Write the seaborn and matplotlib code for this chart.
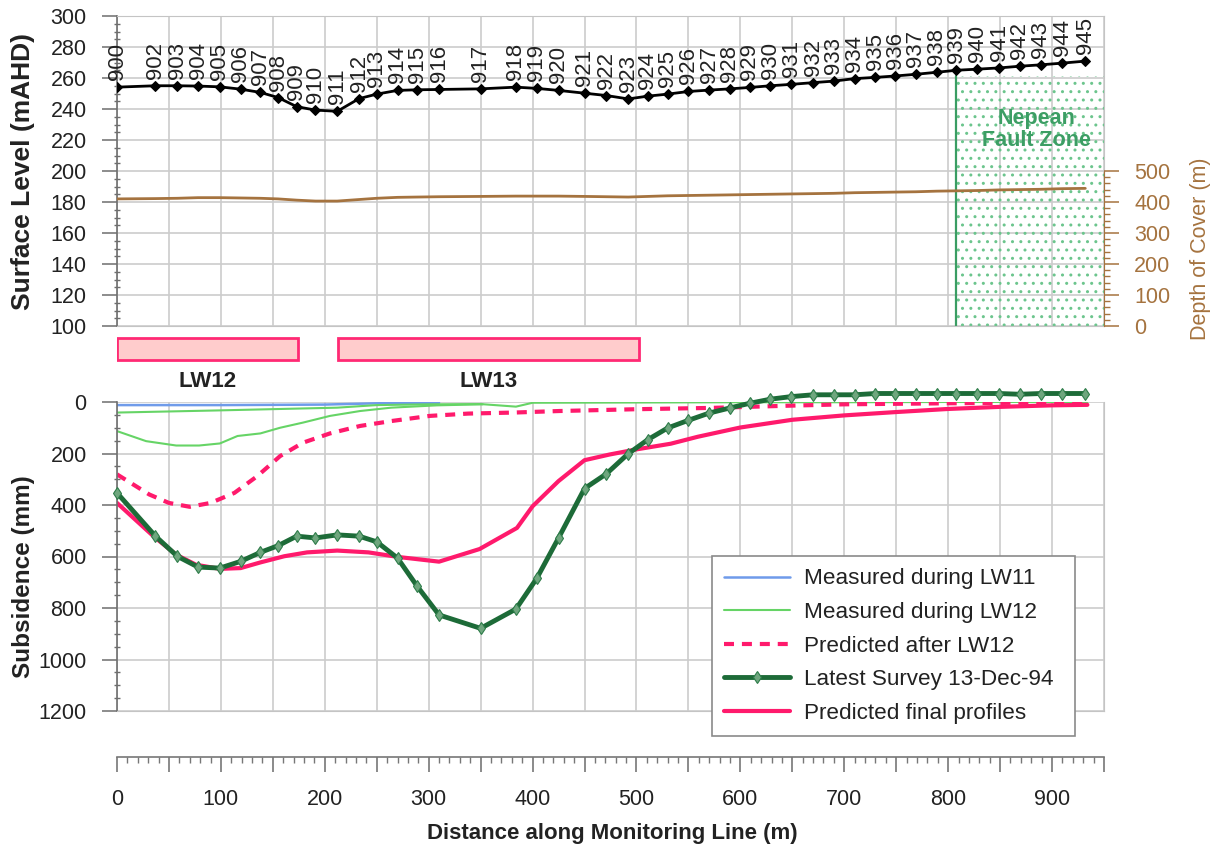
import matplotlib
matplotlib.use("Agg")
import matplotlib.pyplot as plt
from matplotlib.ticker import MultipleLocator, FixedLocator, FuncFormatter
from matplotlib.patches import Rectangle
import seaborn as sns

# ---------------- data ----------------
mark_ids = [900, 902, 903, 904, 905, 906, 907, 908, 909, 910,
            911, 912, 913, 914, 915, 916, 917, 918, 919, 920,
            921, 922, 923, 924, 925, 926, 927, 928, 929, 930,
            931, 932, 933, 934, 935, 936, 937, 938, 939, 940,
            941, 942, 943, 944, 945]
mark_dist = [0, 37, 58, 78, 99, 119, 138, 155, 173, 191,
             212, 233, 250, 270, 289, 310, 350, 384, 404, 425,
             450, 471, 492, 511, 530, 550, 570, 590, 609, 629,
             649, 670, 690, 710, 730, 749, 769, 789, 808, 828,
             849, 869, 889, 910, 932]
surface_level = [254.1, 255.0, 255.0, 254.8, 254.3, 252.8, 250.7, 247.4, 241.5, 239.3,
                 238.5, 246.7, 249.6, 252.0, 252.4, 252.6, 253.0, 254.1, 253.3, 252.0,
                 250.2, 248.7, 246.5, 248.3, 249.6, 251.3, 252.2, 253.0, 253.9, 255.0,
                 255.9, 257.0, 258.0, 259.6, 260.4, 261.3, 262.4, 263.7, 265.0, 265.7,
                 266.5, 267.6, 268.5, 269.6, 270.9]
depth_of_cover = [410, 411, 412, 414, 414, 413, 412, 410, 406, 403,
                  403, 408, 412, 415, 416, 417, 418, 419, 419, 419,
                  418, 417, 416, 418, 420, 421, 422, 423, 424, 425,
                  426, 427, 428, 430, 431, 432, 433, 435, 436, 437,
                  439, 440, 441, 443, 444]
latest_survey = [353, 521, 599, 641, 645, 619, 584, 558, 521, 528,
                 516, 521, 543, 606, 716, 827, 879, 804, 685, 528,
                 336, 279, 201, 146, 101, 71, 43, 23, 5, -11,
                 -21, -28, -28, -28, -33, -33, -33, -33, -33, -33,
                 -33, -30, -33, -33, -33]

final_x = [0, 35, 57, 76, 99, 119, 138, 161, 183, 212, 242, 271, 310, 349, 385,
           400, 425, 450, 474, 500, 533, 559, 600, 650, 700, 750, 800, 849, 900, 934]
final_subs = [392, 521, 593, 632, 648, 645, 623, 599, 584, 577, 584, 602, 620, 571, 489,
              405, 307, 226, 204, 184, 162, 135, 99, 69, 52, 39, 27, 19, 13, 11]

after12_x = [0, 31, 50, 70, 90, 113, 135, 157, 179, 205, 234, 264, 301, 338, 382,
             426, 500, 571, 650, 700, 800, 934]
after12_subs = [281, 359, 392, 407, 392, 353, 288, 210, 158, 122, 93, 74, 54, 45, 41,
                35, 28, 23, 14, 9, 5, 1]

lw11_x = [0, 100, 200, 250, 310]
lw11_subs = [12, 12, 10, 5, 3]

lw12a_x = [0, 94, 212, 250, 300, 350, 384, 400, 500, 600, 700, 800, 934]
lw12a_subs = [41, 33, 22, 12, 9, 8, 18, 3, 2, 1, 1, 0, 0]
lw12b_x = [0, 28, 57, 79, 99, 116, 138, 157, 179, 205, 234, 264, 308, 352]
lw12b_subs = [113, 152, 169, 169, 161, 132, 122, 100, 80, 54, 35, 22, 13, 9]

panel_names = ["LW12", "LW13"]
panel_start = [0, 213]
panel_end = [174, 502]

fault_zone_x = [808, 950]
fault_zone_top = 261

legend_labels = ["Measured during LW11", "Measured during LW12", "Predicted after LW12",
                 "Latest Survey 13-Dec-94", "Predicted final profiles"]

# ---------------- style ----------------
sns.set_style("white")
plt.rcParams['font.family'] = ['Liberation Sans', 'DejaVu Sans']
plt.rcParams['hatch.linewidth'] = 1.0

W, H = 1219, 850
fig = plt.figure(figsize=(W / 100, H / 100), dpi=100)


def frac(x0, y0, x1, y1):
    return [x0 / W, 1 - y1 / H, (x1 - x0) / W, (y1 - y0) / H]


GRID = '#cccccc'
SPINE = '#6e6e6e'
BROWN = '#a5733f'
PINK = '#ff1a6c'
TXT = '#222222'
FS = 15.5

ax_top = fig.add_axes(frac(117, 16, 1104, 326))
ax_strip = fig.add_axes(frac(117, 326, 1104, 402))
ax_bot = fig.add_axes(frac(117, 402, 1104, 711))
ax_x = fig.add_axes(frac(117, 756, 1104, 757))

# ---------------- top chart ----------------
ax_top.set_xlim(0, 950)
ax_top.set_ylim(100, 300)
ax_top.xaxis.set_major_locator(MultipleLocator(50))
ax_top.yaxis.set_major_locator(MultipleLocator(20))
ax_top.yaxis.set_minor_locator(MultipleLocator(5))
ax_top.grid(True, which='major', color=GRID, lw=1.2)
ax_top.tick_params(axis='x', which='both', length=0, labelbottom=False)
ax_top.tick_params(axis='y', which='major', direction='out', length=10.8, width=1.1,
                   color=SPINE, labelsize=FS, labelcolor=TXT, pad=11)
ax_top.tick_params(axis='y', which='minor', direction='inout', length=5, width=1, color=SPINE, left=True)
for s in ['top', 'right', 'bottom']:
    ax_top.spines[s].set_color('#c4c4c4')
ax_top.spines['left'].set_color(SPINE)
ax_top.spines['left'].set_linewidth(1.2)

fz = Rectangle((fault_zone_x[0], 100), fault_zone_x[1] - fault_zone_x[0], fault_zone_top - 100,
               facecolor='none', edgecolor='#6cc58d', hatch='..', lw=0, zorder=1.5)
ax_top.add_patch(fz)
ax_top.plot([fault_zone_x[0], fault_zone_x[0]], [100, fault_zone_top], color='#3a9d63', lw=1.6, zorder=2)
ax_top.text((fault_zone_x[0] + fault_zone_x[1]) / 2 + 6, 227, "Nepean\nFault Zone", ha='center', va='center',
            color='#3c9e64', fontsize=15.5, fontweight='bold', linespacing=1.05, zorder=3)

sns.lineplot(x=mark_dist, y=surface_level, ax=ax_top, color='black', lw=2, marker='D',
             markersize=5.5, markeredgecolor='black', zorder=4, sort=False, estimator=None)
for d, s, m in zip(mark_dist, surface_level, mark_ids):
    ax_top.annotate(str(m), (d, s), xytext=(0, 7), textcoords='offset pixels', rotation=90,
                    ha='center', va='bottom', fontsize=16, color=TXT, annotation_clip=False)
ax_top.set_xlabel('')
ax_top.set_ylabel('Surface Level (mAHD)', fontsize=19, fontweight='bold', color=TXT)
ax_top.yaxis.set_label_coords(-0.083, 0.5)

ax_r = ax_top.twinx()
sns.lineplot(x=mark_dist, y=depth_of_cover, ax=ax_r, color=BROWN, lw=2, sort=False, estimator=None)
ax_r.set_xlim(0, 950)
ax_r.set_ylim(0, 1000)
ax_r.grid(False)
ax_r.yaxis.set_major_locator(FixedLocator(list(range(0, 501, 100))))
ax_r.yaxis.set_minor_locator(FixedLocator(list(range(0, 501, 20))))
ax_r.tick_params(axis='y', which='major', direction='out', length=10.8, width=1.1, color=BROWN,
                 labelsize=FS, labelcolor=BROWN, pad=11, right=True)
ax_r.tick_params(axis='y', which='minor', direction='out', length=4.5, width=1, color=BROWN, right=True)
for s in ['top', 'left', 'bottom']:
    ax_r.spines[s].set_visible(False)
ax_r.spines['right'].set_bounds(0, 500)
ax_r.spines['right'].set_color(BROWN)
ax_r.set_xlabel('')
ax_r.set_ylabel('Depth of Cover (m)', fontsize=FS, color=BROWN)
ax_r.yaxis.set_label_coords(1.087, 0.25)

# ---------------- longwall strip ----------------
ax_strip.set_xlim(0, 950)
ax_strip.set_ylim(0, 1)
ax_strip.axis('off')
for name, s0, s1 in zip(panel_names, panel_start, panel_end):
    ax_strip.add_patch(Rectangle((s0, 0.553), s1 - s0, 0.289, facecolor='#ffcccc',
                                 edgecolor='#ff2a74', lw=2))
    ax_strip.text((s0 + s1) / 2, 0.27, name, ha='center', va='center', fontsize=16,
                  fontweight='bold', color=TXT)

# ---------------- bottom chart ----------------
sns.lineplot(x=lw11_x, y=lw11_subs, ax=ax_bot, color='#6f9bea', lw=1.8,
             label=legend_labels[0], estimator=None)
sns.lineplot(x=lw12a_x, y=lw12a_subs, ax=ax_bot, color='#66d466', lw=1.5,
             label=legend_labels[1], estimator=None)
sns.lineplot(x=lw12b_x, y=lw12b_subs, ax=ax_bot, color='#66d466', lw=1.5,
             label='_nolegend_', estimator=None)
sns.lineplot(x=after12_x, y=after12_subs, ax=ax_bot, color=PINK, lw=3,
             linestyle=(0, (2.4, 1.9)), label=legend_labels[2], estimator=None)
sns.lineplot(x=final_x, y=final_subs, ax=ax_bot, color=PINK, lw=3,
             label=legend_labels[4], estimator=None)
sns.lineplot(x=mark_dist, y=latest_survey, ax=ax_bot, color='#1d6b38', lw=3.5, marker='d',
             markersize=6, markerfacecolor='#6fa67e', markeredgecolor='#2e7d4a', markeredgewidth=0.8,
             label=legend_labels[3], estimator=None, clip_on=False, zorder=5)

ax_bot.set_xlim(0, 950)
ax_bot.set_ylim(1200, 0)
ax_bot.xaxis.set_major_locator(MultipleLocator(50))
ax_bot.yaxis.set_major_locator(MultipleLocator(200))
ax_bot.yaxis.set_minor_locator(MultipleLocator(50))
ax_bot.grid(True, which='major', color=GRID, lw=1.2)
ax_bot.tick_params(axis='x', which='both', length=0, labelbottom=False)
ax_bot.tick_params(axis='y', which='major', direction='out', length=10.8, width=1.1,
                   color=SPINE, labelsize=FS, labelcolor=TXT, pad=11, left=True)
ax_bot.tick_params(axis='y', which='minor', direction='inout', length=5, width=1, color=SPINE, left=True)
ax_bot.spines['top'].set_visible(False)
ax_bot.spines['right'].set_color('#c4c4c4')
ax_bot.spines['bottom'].set_color('#c4c4c4')
ax_bot.spines['left'].set_color(SPINE)
ax_bot.spines['left'].set_linewidth(1.2)
ax_bot.set_xlabel('')
ax_bot.set_ylabel('Subsidence (mm)', fontsize=17.5, fontweight='bold', color=TXT)
ax_bot.yaxis.set_label_coords(-0.083, 0.434)

handles, labels = ax_bot.get_legend_handles_labels()
hmap = dict(zip(labels, handles))
ax_bot.legend([hmap[l] for l in legend_labels], legend_labels, loc='upper left',
              bbox_to_anchor=(712 / W, 1 - 738 / H, (1075 - 712) / W, (738 - 556) / H),
              bbox_transform=fig.transFigure, mode='expand',
              fontsize=16.2, frameon=True, fancybox=False, framealpha=1, edgecolor='#8a8a8a',
              handlelength=2.9, handletextpad=0.62, labelspacing=0.56, borderpad=0.55,
              borderaxespad=0)
leg = ax_bot.get_legend()
leg.get_frame().set_linewidth(1.2)
for t in leg.get_texts():
    t.set_color(TXT)
leg.set_zorder(10)

# ---------------- separate distance axis ----------------
ax_x.set_xlim(0, 950)
ax_x.set_ylim(0, 1)
ax_x.set_yticks([])
ax_x.patch.set_visible(False)
for s in ['top', 'left', 'right']:
    ax_x.spines[s].set_visible(False)
ax_x.spines['bottom'].set_color('#777777')
ax_x.spines['bottom'].set_linewidth(1.2)
ax_x.xaxis.set_major_locator(MultipleLocator(50))
ax_x.xaxis.set_minor_locator(MultipleLocator(10))
ax_x.xaxis.set_major_formatter(FuncFormatter(lambda v, p: f"{int(round(v))}" if int(round(v)) % 100 == 0 else ""))
ax_x.tick_params(axis='x', which='major', direction='out', length=10.8, width=1.2, color='#777777',
                 labelsize=FS, labelcolor=TXT, pad=12, bottom=True)
ax_x.tick_params(axis='x', which='minor', direction='out', length=4.5, width=1, color='#777777', bottom=True)

fig.text(612 / W, 1 - 833 / H, 'Distance along Monitoring Line (m)', ha='center', va='center',
         fontsize=16, fontweight='bold', color=TXT)

fig.savefig('out.png', dpi=100)
